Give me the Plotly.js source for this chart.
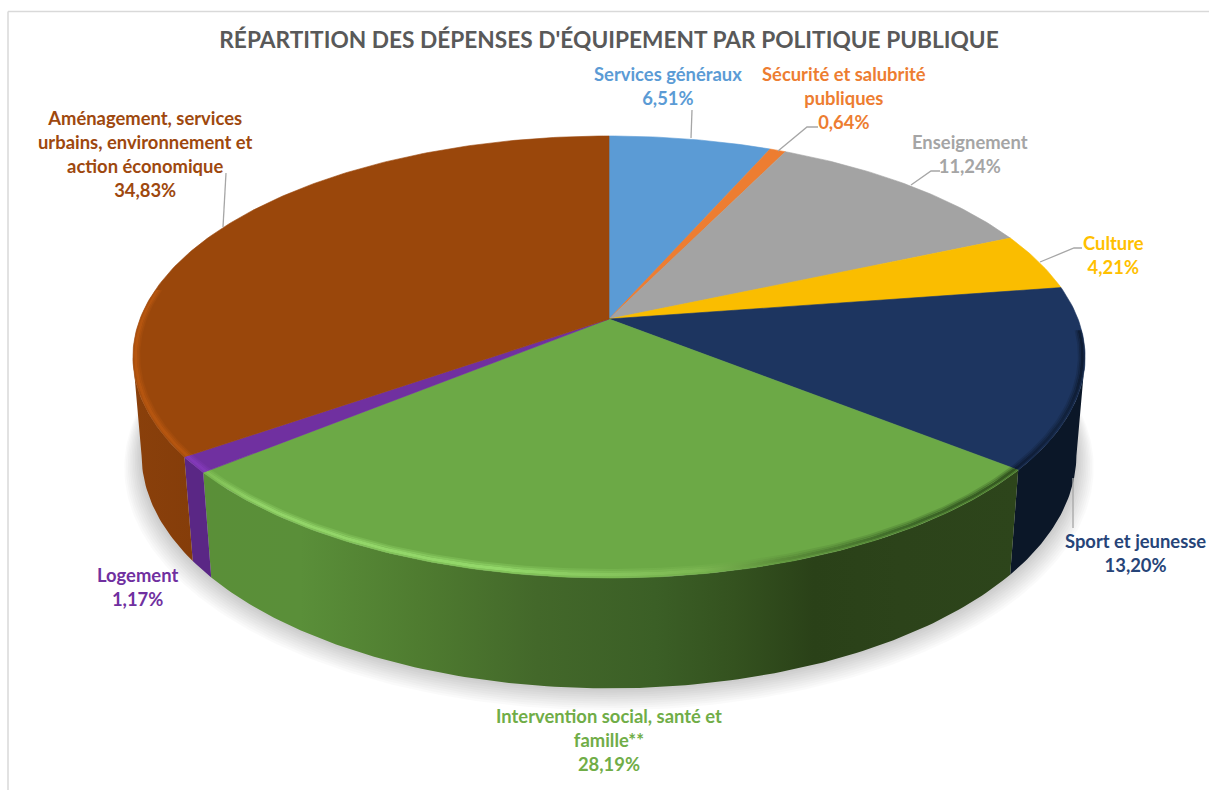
<!DOCTYPE html>
<html lang="fr">
<head>
<meta charset="utf-8">
<title>Répartition des dépenses d'équipement</title>
<script src="https://cdn.plot.ly/plotly-3.0.1.min.js"></script>
<style>html,body{margin:0;padding:0;background:#fff;overflow:hidden}#chart{width:1209px;height:790px}</style>
</head>
<body>
<div id="chart"></div>
<script>
// ---- data ----
const chartTitle = "RÉPARTITION DES DÉPENSES D'ÉQUIPEMENT PAR POLITIQUE PUBLIQUE";
const categories = ["Services généraux", "Sécurité et salubrité<br>publiques", "Enseignement", "Culture",
  "Sport et jeunesse", "Intervention social, santé et<br>famille**", "Logement",
  "Aménagement, services<br>urbains, environnement et<br>action économique"];
const values = [6.51, 0.64, 11.24, 4.21, 13.20, 28.19, 1.17, 34.83];

// ---- styling ----
const topColors = ["#5B9BD5", "#ED7D31", "#A3A3A3", "#FABD00", "#1D3560", "#6CA946", "#7030A0", "#9A470B"];
const labelColors = ["#5B9BD5", "#ED7D31", "#A5A5A5", "#FFC000", "#264478", "#70AD47", "#7030A0", "#9E480E"];
const labelX = [668, 844, 970, 1113, 1135, 609, 137, 145];
const labelY = [86, 98, 154, 255, 553, 740, 587, 154];
const leaders = [
  [[692,110],[691,138]],
  [[818,127],[807,127],[778,151]],
  [[940,171],[931,171],[911,185]],
  [[1082,248],[1074,248],[1040,262]],
  [[1073,528],[1073,478]],
  [[226,173],[223,227]]
];
// wall shading, [pixel x, colour]
const wallStops = {
  4: [[1005,"#0B1728"],[1090,"#0B1728"]],
  5: [[200,"#5A8F38"],[300,"#5A8F39"],[418,"#4F7C30"],[537,"#43682A"],[655,"#3B5F26"],[735,"#34521F"],[814,"#2A4118"],[900,"#2C431A"],[1020,"#2D451B"]],
  6: [[185,"#5A2785"],[215,"#5A2785"]],
  7: [[130,"#8A400B"],[215,"#833C09"]]
};
// rim highlight, [pixel x, colour]
const rimStops = {
  4: [[1015,"#0E1C36"],[1060,"#12233F"],[1090,"#0D1A30"]],
  5: [[200,"#7DBB52"],[260,"#92D468"],[500,"#93D86A"],[700,"#7CB752"],[780,"#5C8F3A"],[900,"#3F6B29"],[1020,"#33561F"]],
  6: [[185,"#8239B8"],[215,"#8239B8"]],
  7: [[130,"#B5550F"],[215,"#B5550F"]]
};
const rimBands = [[5.5, 7, 0.3], [4, 5.5, 0.65], [1.2, 4, 1], [0, 1.2, 0.6]];
const wallVisible = [100, 260];
const rimVisible = [93, 278];

// ---- perspective model of the disc ----
const cx = 609, cy = 319, W = 469, H = 214.5, K = 0.172, M = 0.018, N = 98;
function project(r, deg, z) {
  const a = deg * Math.PI / 180, u = r * Math.sin(a), v = r * Math.cos(a);
  const d = 1 + K * v + M * z;
  return [cx + W * u / d, cy + (-H * v + N * z) / d];
}
function arc(r, a, b, z) {
  const n = Math.max(3, Math.ceil(Math.abs(b - a) / 0.8)), pts = [];
  for (let i = 0; i <= n; i++) pts.push(project(r, a + (b - a) * i / n, z));
  return pts;
}
// an arc set a fixed number of pixels inside the top edge
function insetArc(px, a, b) {
  const n = Math.max(3, Math.ceil(Math.abs(b - a) / 0.8)), pts = [];
  for (let i = 0; i <= n; i++) {
    const deg = a + (b - a) * i / n, t = deg * Math.PI / 180;
    const scale = Math.hypot(476 * Math.sin(t), 240 * Math.cos(t));
    pts.push(project(1 - px / scale, deg, 0));
  }
  return pts;
}
function area(pts, fill, extra) {
  return Object.assign({
    type: "scatter", mode: "lines", x: pts.map(p => p[0]), y: pts.map(p => p[1]),
    fill: "toself", fillcolor: fill, line: {width: 0, color: fill}, hoverinfo: "skip", showlegend: false
  }, extra || {});
}
function gradient(stops, alpha) {
  const lo = stops[0][0], hi = stops[stops.length - 1][0];
  return {type: "horizontal", start: lo, stop: hi,
    colorscale: stops.map(s => {
      const c = s[1], rr = parseInt(c.slice(1,3),16), g = parseInt(c.slice(3,5),16), b = parseInt(c.slice(5,7),16);
      return [(s[0] - lo) / (hi - lo), "rgba(" + rr + "," + g + "," + b + "," + alpha + ")"];
    })};
}

const traces = [];
// soft ground shadow
for (let i = 10; i >= 1; i--) {
  const ring = arc(1 + i * 0.0036, 0, 360, 1).map(p => [p[0], p[1] + i * 1.0]);
  traces.push(area(ring, "rgba(0,0,0,0.02)"));
}
// slice angles
const total = values.reduce((s, v) => s + v, 0);
const spans = [];
let run = 0;
values.forEach(v => { spans.push([run / total * 360, (run + v) / total * 360]); run += v; });

// outer walls: only the front part between the two silhouette angles
spans.forEach((s, i) => {
  const stops = wallStops[i];
  if (!stops) return;
  const a = Math.max(s[0], wallVisible[0]), b = Math.min(s[1], wallVisible[1]);
  if (b <= a) return;
  const pts = arc(1, a, b, 0).concat(arc(1, b, a, 1));
  pts.push(pts[0]);
  traces.push(area(pts, stops[0][1], {fillgradient: gradient(stops, 1)}));
});
// top faces
spans.forEach((s, i) => {
  const pts = [project(0, 0, 0)].concat(arc(1, s[0], s[1], 0));
  pts.push(project(0, 0, 0));
  const t = area(pts, topColors[i]);
  t.line = {width: 0.6, color: topColors[i]};
  traces.push(t);
});
// rim bevels
spans.forEach((s, i) => {
  const stops = rimStops[i];
  if (!stops) return;
  const a = Math.max(s[0], rimVisible[0]), b = Math.min(s[1], rimVisible[1]);
  if (b <= a) return;
  rimBands.forEach(band => {
    const pts = insetArc(band[1], a, b).concat(insetArc(band[0] === 0 ? 0 : band[0], b, a));
    pts.push(pts[0]);
    traces.push(area(pts, stops[0][1], {fillgradient: gradient(stops, band[2])}));
  });
});

// ---- labels, leaders, frame ----
const fontFamily = "Lato, Carlito, Calibri, sans-serif";
const annotations = categories.map((c, i) => ({
  x: labelX[i], y: labelY[i], xref: "x", yref: "y", showarrow: false,
  xanchor: "center", yanchor: "middle", align: "center",
  text: c + "<br>" + values[i].toFixed(2).replace(".", ",") + "%",
  font: {family: fontFamily, size: 18.4, color: labelColors[i], weight: 700}
}));
const shapes = leaders.map(l => ({
  type: "path", xref: "x", yref: "y",
  path: l.map((p, i) => (i ? "L" : "M") + p[0] + "," + p[1]).join(" "),
  line: {color: "#A6A6A6", width: 1.3}, layer: "above"
}));
shapes.push({type: "line", xref: "x", yref: "y", x0: 8, x1: 1209, y0: 11.5, y1: 11.5, line: {color: "#D9D9D9", width: 1.5}});
shapes.push({type: "line", xref: "x", yref: "y", x0: 8, x1: 8, y0: 11.5, y1: 790, line: {color: "#D9D9D9", width: 1.5}});

Plotly.newPlot("chart", traces, {
  width: 1209, height: 790, autosize: false,
  margin: {l: 0, r: 0, t: 0, b: 0, pad: 0},
  paper_bgcolor: "#fff", plot_bgcolor: "#fff", showlegend: false,
  title: {text: chartTitle, x: 609 / 1209, xanchor: "center", y: 1 - 40 / 790, yanchor: "middle",
    font: {family: fontFamily, size: 22.7, color: "#595959", weight: 700}},
  xaxis: {range: [0, 1209], visible: false, fixedrange: true},
  yaxis: {range: [790, 0], visible: false, fixedrange: true},
  annotations: annotations, shapes: shapes, hovermode: false
}, {displayModeBar: false, staticPlot: true});
</script>
</body>
</html>
